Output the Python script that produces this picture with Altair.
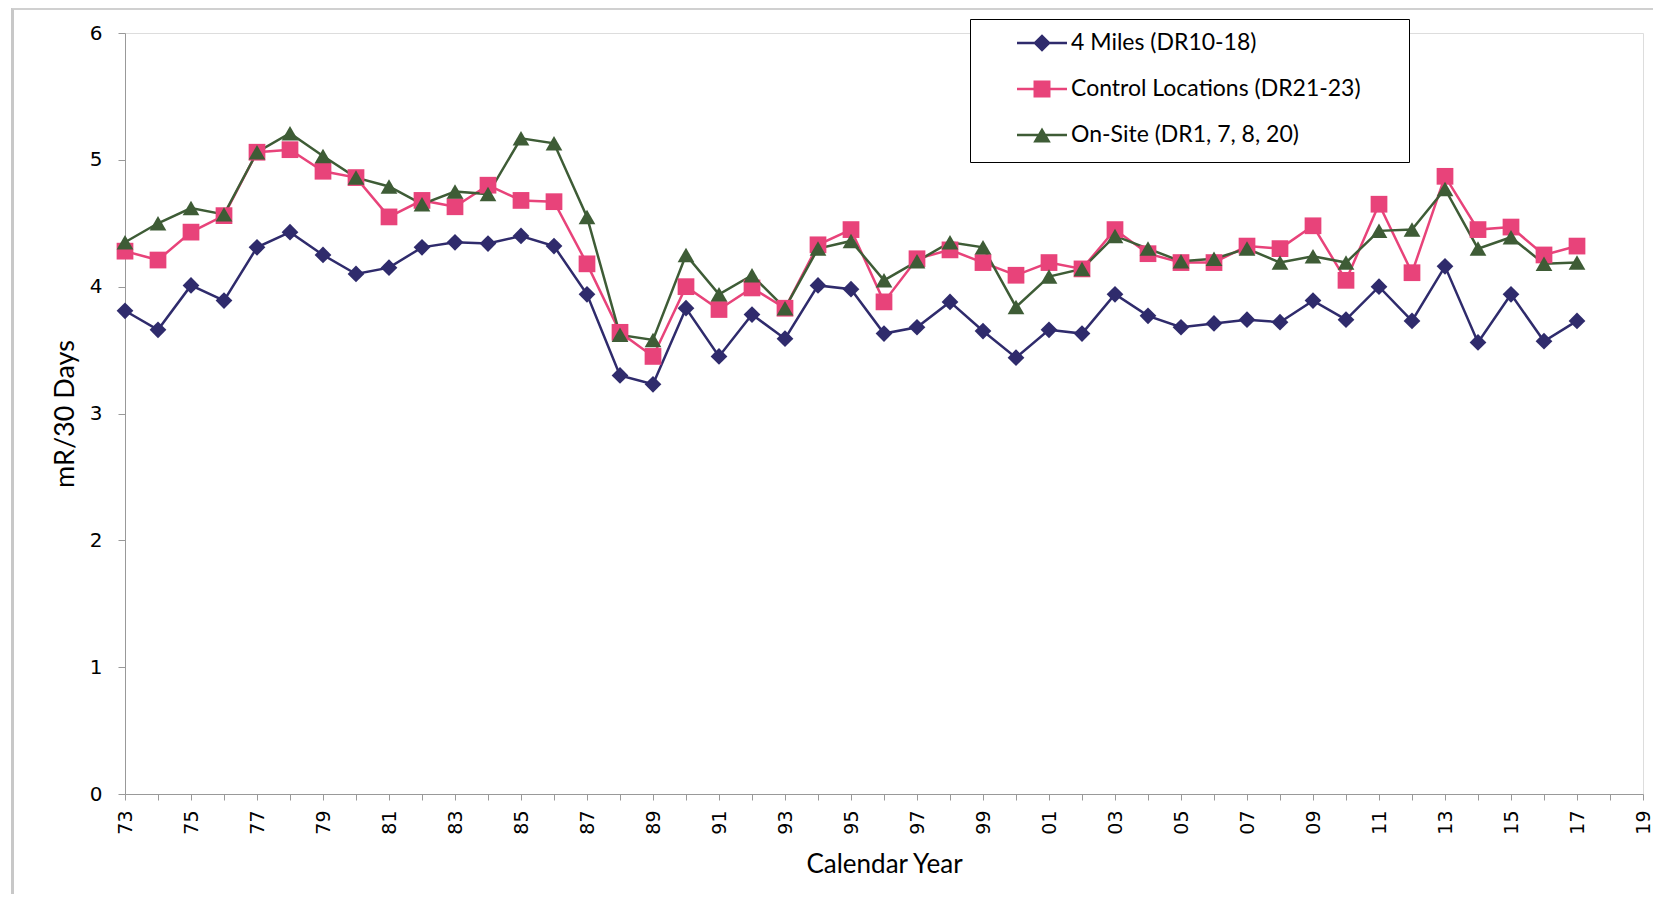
import altair as alt
import pandas as pd

years = list(range(1973, 2018))
miles4 = [3.81, 3.66, 4.01, 3.89, 4.31, 4.43, 4.25, 4.10, 4.15, 4.31,
          4.35, 4.34, 4.40, 4.32, 3.94, 3.30, 3.23, 3.83, 3.45, 3.78,
          3.59, 4.01, 3.98, 3.63, 3.68, 3.88, 3.65, 3.44, 3.66, 3.63,
          3.94, 3.77, 3.68, 3.71, 3.74, 3.72, 3.89, 3.74, 4.00, 3.73,
          4.16, 3.56, 3.94, 3.57, 3.73]
control = [4.28, 4.21, 4.43, 4.56, 5.06, 5.08, 4.91, 4.86, 4.55, 4.68,
           4.63, 4.80, 4.68, 4.67, 4.18, 3.64, 3.45, 4.00, 3.82, 3.99,
           3.83, 4.33, 4.45, 3.88, 4.22, 4.29, 4.19, 4.09, 4.19, 4.14,
           4.45, 4.26, 4.19, 4.19, 4.32, 4.30, 4.48, 4.05, 4.65, 4.11,
           4.87, 4.45, 4.47, 4.25, 4.32]
onsite = [4.35, 4.50, 4.62, 4.57, 5.06, 5.21, 5.03, 4.86, 4.79, 4.65,
          4.75, 4.73, 5.17, 5.13, 4.55, 3.62, 3.58, 4.25, 3.94, 4.09,
          3.83, 4.30, 4.36, 4.05, 4.20, 4.35, 4.31, 3.84, 4.08, 4.14,
          4.40, 4.30, 4.20, 4.22, 4.30, 4.19, 4.24, 4.19, 4.44, 4.45,
          4.77, 4.30, 4.39, 4.18, 4.19]

series_names = ["4 Miles (DR10-18)", "Control Locations (DR21-23)", "On-Site (DR1, 7, 8, 20)"]
series_colors = ["#2f2b6c", "#e8437a", "#3e5c36"]
series_shapes = ["diamond", "square", "triangle-up"]
year_ticks = list(range(1973, 2020))
y_ticks = [0, 1, 2, 3, 4, 5, 6]

# legend glyphs: a line segment with the marker in its middle
_line = "M-1.136,-0.057H1.136V0.057H-1.136Z"
legend_paths = [
    _line + "M-0.4,0L0,-0.4L0.4,0L0,0.4Z",
    _line + "M-0.386,-0.386H0.386V0.386H-0.386Z",
    _line + "M0,-0.346L0.4,0.346H-0.4ZM0,1.12",
]

rows = []
for name, vals in zip(series_names, [miles4, control, onsite]):
    for yr, v in zip(years, vals):
        rows.append({"year": yr, "value": v, "series": name})
df = pd.DataFrame(rows)

x_enc = alt.X(
    "year:Q",
    scale=alt.Scale(domain=[1973, 2019], nice=False, zero=False),
    axis=alt.Axis(
        title="Calendar Year",
        values=year_ticks,
        labelExpr="datum.value % 2 == 1 ? substring(toString(datum.value), 2, 4) : ''",
        labelAngle=270,
        labelOverlap=False,
        labelFlush=False,
        labelFont="DejaVu Sans",
        labelFontSize=19,
        labelColor="black",
        labelPadding=10,
        tickSize=6,
        tickColor="#999999",
        domainColor="#999999",
        grid=False,
        titleFont="Lato",
        titleFontSize=26,
        titleFontWeight="normal",
        titleColor="black",
        titlePadding=17,
    ),
)
y_enc = alt.Y(
    "value:Q",
    scale=alt.Scale(domain=[0, 6], nice=False),
    axis=alt.Axis(
        title="mR/30 Days",
        values=y_ticks,
        labelFont="DejaVu Sans",
        labelFontSize=20,
        labelColor="black",
        labelPadding=16,
        tickSize=7,
        tickColor="#999999",
        domainColor="#999999",
        grid=False,
        titleFont="Lato",
        titleFontSize=27,
        titleFontWeight="normal",
        titleColor="black",
        titlePadding=10,
    ),
)

color_scale = alt.Scale(domain=series_names, range=series_colors)

lines = alt.Chart(df).mark_line(strokeWidth=2.5).encode(
    x=x_enc, y=y_enc,
    color=alt.Color("series:N", scale=color_scale, legend=None),
)

points = alt.Chart(df).mark_point(filled=True, size=280, opacity=1).encode(
    x=x_enc, y=y_enc,
    color=alt.Color("series:N", scale=color_scale, legend=None),
    shape=alt.Shape("series:N", scale=alt.Scale(domain=series_names, range=series_shapes), legend=None),
)

leg = alt.Legend(
    title=" ",
    titleOrient="right",
    titlePadding=46,
    titleFontSize=1,
    orient="none",
    legendX=845,
    legendY=-14,
    direction="vertical",
    strokeColor="black",
    fillColor="white",
    padding=2,
    symbolSize=1936,
    symbolStrokeWidth=0,
    symbolOpacity=1,
    symbolOffset=48,
    labelOffset=7,
    labelFont="Lato",
    labelFontSize=23,
    labelColor="black",
    labelLimit=0,
    rowPadding=12,
)

legend_layer = alt.Chart(df).mark_point(filled=True, opacity=0, size=10).encode(
    x=x_enc, y=y_enc,
    color=alt.Color("series:N", scale=color_scale, legend=leg),
    shape=alt.Shape("series:N", scale=alt.Scale(domain=series_names, range=legend_paths), legend=leg),
)

frame_left = alt.Chart(df).mark_rule(color="#c8c8c8", strokeWidth=1.5).encode(
    x=alt.value(-112.5), y=alt.value(-25), y2=alt.value(900)
)
frame_top = alt.Chart(df).mark_rule(color="#d0d0d0", strokeWidth=1.5).encode(
    x=alt.value(-112.5), x2=alt.value(1600), y=alt.value(-24.5)
)

chart = alt.layer(frame_left, frame_top, lines, points, legend_layer).resolve_scale(
    color="independent", shape="independent"
).properties(
    width=1518,
    height=761,
    autosize=alt.AutoSizeParams(type="none"),
    padding={"left": 117, "top": 25, "right": 10, "bottom": 100},
).configure_view(stroke=None).configure_legend(strokeWidth=2).configure(background="white")

chart.save("out.html", embed_options={"renderer": "svg", "actions": False})
